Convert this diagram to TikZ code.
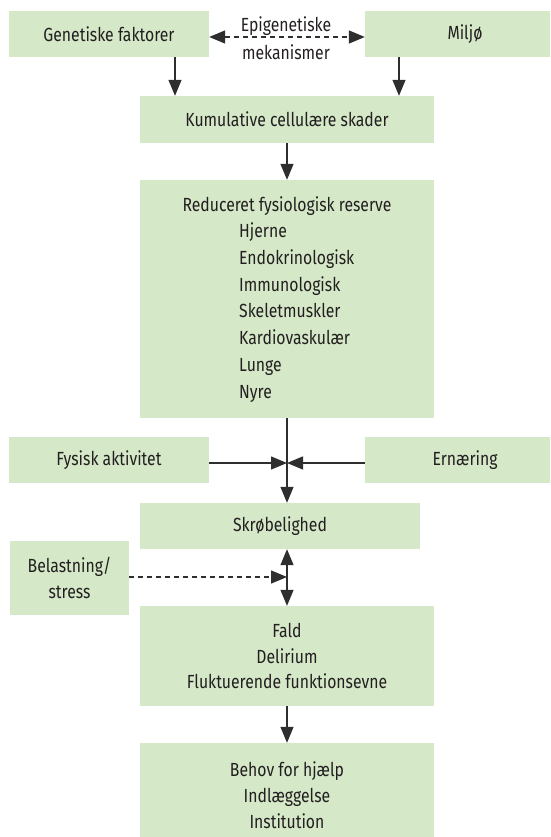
\documentclass[tikz,border=0pt]{standalone}
\usepackage{fontspec}
\setmainfont{Fira Sans}[FakeStretch=0.83]
\usetikzlibrary{arrows.meta}
\definecolor{boxgreen}{HTML}{D5E8C8}
\definecolor{txtcol}{HTML}{231F20}
\definecolor{linecol}{HTML}{2E2E2E}
\tikzset{
  box/.style={fill=boxgreen, draw=none, inner sep=0pt, text=txtcol, align=center,
    font=\fontsize{19}{25.7}\selectfont},
  lbl/.style={inner sep=0pt, text=txtcol, font=\fontsize{19}{25.7}\selectfont},
  arr/.style={draw=linecol, line width=1.3pt, -{Triangle[length=16pt,width=13pt]}},
  darr/.style={draw=linecol, line width=1.3pt, {Triangle[length=16pt,width=13pt]}-{Triangle[length=16pt,width=13pt]}},
  dsh/.style={dash pattern=on 5pt off 4pt}
}
\begin{document}
\begin{tikzpicture}[x=1pt,y=-1pt]
\path[use as bounding box, clip] (0,0) rectangle (550,837);
% boxes
\node[box, minimum width=200pt, minimum height=46pt] (gen) at (109,34) {Genetiske faktorer};
\node[box, minimum width=200pt, minimum height=46pt] (mil) at (465,34) {Miljø};
\node[box, minimum width=294pt, minimum height=47pt] (kum) at (287,119.5) {Kumulative cellulære skader};
\node[box, minimum width=294pt, minimum height=238pt] (red) at (287,299) {};
\node[lbl, anchor=base] (redh) at (287,211.5) {Reduceret fysiologisk reserve};
\foreach \t [count=\i from 0] in {Hjerne,Endokrinologisk,Immunologisk,Skeletmuskler,Kardiovaskulær,Lunge,Nyre}{
  \node[lbl, anchor=base west] (it\i) at (239,{237.5+26.8*\i}) {\t};
}
\node[box, minimum width=200pt, minimum height=46pt] (fys) at (109,460) {Fysisk aktivitet};
\node[box, minimum width=200pt, minimum height=46pt] (ern) at (465,460) {Ernæring};
\node[box, minimum width=280pt, minimum height=46pt] (skr) at (280,526) {Skrøbelighed};
\node[box, minimum width=119pt, minimum height=74pt] (bel) at (69.5,578) {Belastning/\\stress};
\node[box, minimum width=294pt, minimum height=100pt] (fald) at (287,656) {Fald\\Delirium\\Fluktuerende funktionsevne};
\node[box, minimum width=294pt, minimum height=104pt] (beh) at (287,795) {Behov for hjælp\\Indlæggelse\\Institution};
\node[lbl, align=center, font=\fontsize{19}{28}\selectfont] (epi) at (286,38.5) {Epigenetiske\\mekanismer};
% connectors
\draw[darr, dsh] ([yshift=-3pt]gen.east) -- ([yshift=-3pt]mil.west);
\draw[arr] ([xshift=66pt]gen.south) -- ([xshift=66pt]gen.south |- kum.north);
\draw[arr] ([xshift=-66pt]mil.south) -- ([xshift=-66pt]mil.south |- kum.north);
\draw[arr] (kum.south) -- (red.north);
\coordinate (m1) at (287,463);
\coordinate (m2) at (287,577);
\draw[arr] (red.south) -- (red.south |- skr.north);
\draw[arr] (fys.east |- m1) -- (m1);
\draw[arr] (ern.west |- m1) -- (m1);
\draw[darr] (red.south |- skr.south) -- (fald.north);
\draw[arr, dsh] (bel.east |- m2) -- (m2);
\draw[arr] (fald.south) -- (beh.north);
\end{tikzpicture}
\end{document}
